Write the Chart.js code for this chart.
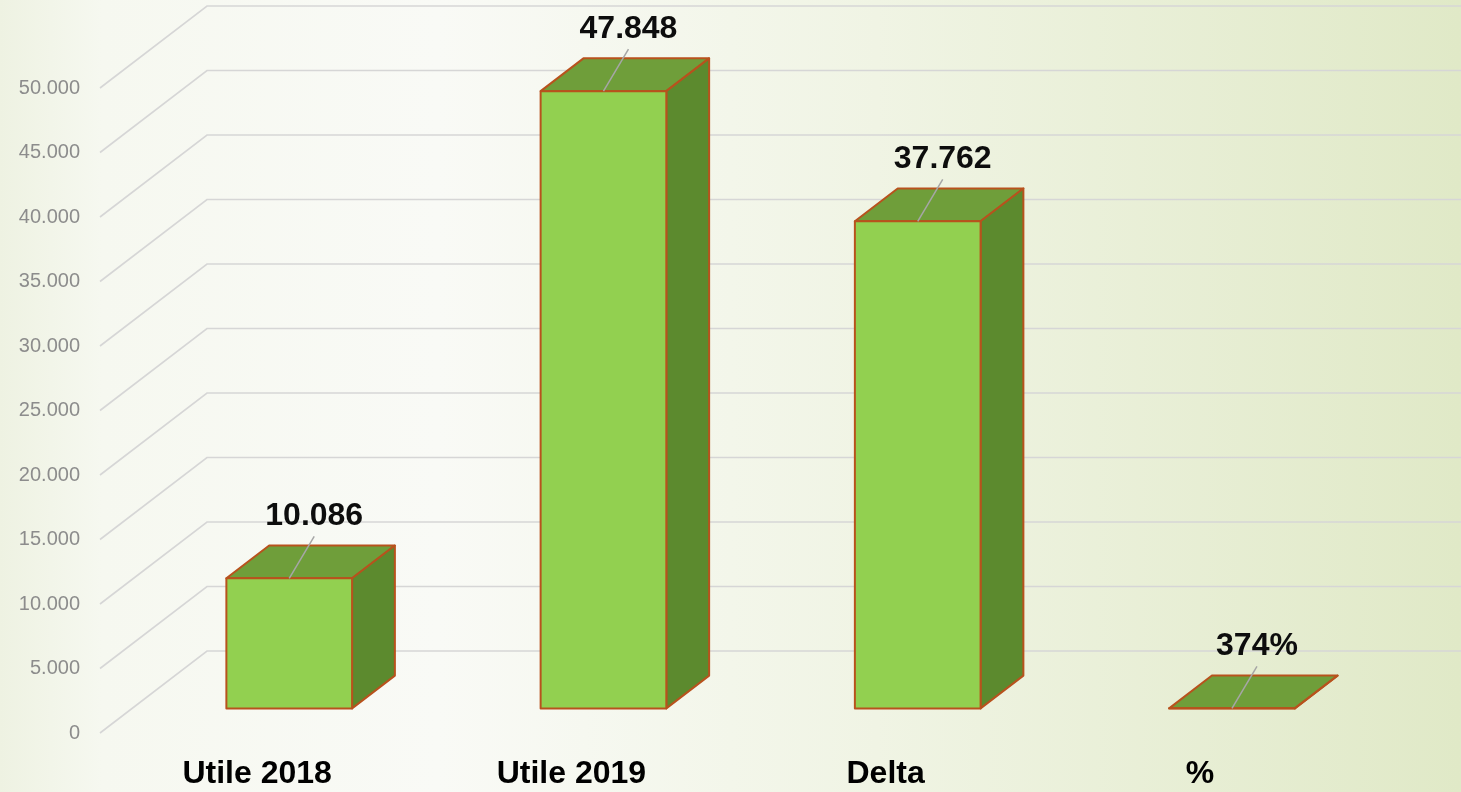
<!DOCTYPE html>
<html>
<head>
<meta charset="utf-8">
<script src="https://cdn.jsdelivr.net/npm/chart.js@4/dist/chart.umd.min.js"></script>
<style>
  html, body { margin: 0; padding: 0; }
  #wrap { width: 1461px; height: 792px; }
</style>
</head>
<body>
<div id="wrap"><canvas id="chart"></canvas></div>
<script>
const categories = ['Utile 2018', 'Utile 2019', 'Delta', '%'];
const values = [10086, 47848, 37762, 3.74];
const valueLabels = ['10.086', '47.848', '37.762', '374%'];
const yMin = 0;
const yMax = 50000;
const yStep = 5000;

// fake 3D: depth of the floor/back wall in pixels, bar sits in the middle
const DEPTH_X = 107;
const DEPTH_Y = 82;
const FRONT_AT = 0.3;
const BAR_DEPTH = 0.4;

const fmt = v => String(Math.round(v)).replace(/\B(?=(\d{3})+(?!\d))/g, '.');

const backdrop = {
  id: 'backdrop',
  beforeDraw(chart) {
    const {ctx, width, height} = chart;
    ctx.save();
    const g = ctx.createLinearGradient(0, 0, width, 0);
    g.addColorStop(0, '#eef2e2');
    g.addColorStop(0.07, '#f6f8f0');
    g.addColorStop(0.3, '#f9faf6');
    g.addColorStop(0.6, '#f0f4e4');
    g.addColorStop(1, '#e0e9c7');
    ctx.fillStyle = g;
    ctx.fillRect(0, 0, width, height);
    ctx.restore();
  }
};

const grid3d = {
  id: 'grid3d',
  beforeDatasetsDraw(chart) {
    const {ctx, chartArea} = chart;
    const y = chart.scales.y;
    ctx.save();
    ctx.strokeStyle = '#d6d6d6';
    ctx.lineWidth = 1.6;
    y.ticks.forEach(t => {
      const py = y.getPixelForValue(t.value);
      ctx.beginPath();
      ctx.moveTo(chartArea.left, py);
      ctx.lineTo(chartArea.left + DEPTH_X, py - DEPTH_Y);
      ctx.lineTo(chartArea.right + DEPTH_X, py - DEPTH_Y);
      ctx.stroke();
    });
    ctx.restore();
  }
};

function poly(ctx, pts, fill) {
  ctx.beginPath();
  ctx.moveTo(pts[0][0], pts[0][1]);
  for (let i = 1; i < pts.length; i++) ctx.lineTo(pts[i][0], pts[i][1]);
  ctx.closePath();
  ctx.fillStyle = fill;
  ctx.fill();
  ctx.stroke();
}

const boxes = {
  id: 'boxes',
  afterDatasetsDraw(chart) {
    const {ctx} = chart;
    const meta = chart.getDatasetMeta(0);
    const ox = DEPTH_X * FRONT_AT, oy = DEPTH_Y * FRONT_AT;
    const dx = DEPTH_X * BAR_DEPTH, dy = DEPTH_Y * BAR_DEPTH;
    ctx.save();
    ctx.lineJoin = 'round';
    meta.data.forEach((bar, i) => {
      const {x, y, base, width} = bar.getProps(['x', 'y', 'base', 'width'], true);
      const l = x - width / 2 + ox, r = x + width / 2 + ox;
      const t = y - oy, b = base - oy;
      ctx.strokeStyle = '#b8521d';
      ctx.lineWidth = 2;
      poly(ctx, [[l, t], [r, t], [r + dx, t - dy], [l + dx, t - dy]], '#6f9e3a');
      poly(ctx, [[r, t], [r + dx, t - dy], [r + dx, b - dy], [r, b]], '#5c8a2e');
      poly(ctx, [[l, t], [r, t], [r, b], [l, b]], '#92d050');

      // leader line + value label
      const cx = x + ox;
      ctx.strokeStyle = '#a6a6a6';
      ctx.lineWidth = 1.5;
      ctx.beginPath();
      ctx.moveTo(cx, t);
      ctx.lineTo(cx + 25, t - 42);
      ctx.stroke();
      ctx.fillStyle = '#0d0d0d';
      ctx.font = 'bold 32px "Liberation Sans", Arial, sans-serif';
      ctx.textAlign = 'center';
      ctx.textBaseline = 'middle';
      ctx.fillText(valueLabels[i], cx + 25, t - 62);
    });
    ctx.restore();
  }
};

new Chart(document.getElementById('chart'), {
  type: 'bar',
  data: {
    labels: categories,
    datasets: [{
      data: values,
      backgroundColor: 'rgba(0,0,0,0)',
      borderWidth: 0,
      categoryPercentage: 1,
      barPercentage: 0.4
    }]
  },
  options: {
    responsive: true,
    maintainAspectRatio: false,
    animation: false,
    layout: {
      padding: {top: 88, right: 104, left: 0, bottom: 0}
    },
    scales: {
      x: {
        grid: {display: false, drawTicks: false},
        border: {display: false},
        ticks: {
          color: '#000',
          padding: 22,
          font: {family: '"Liberation Sans", Arial, sans-serif', size: 32, weight: 'bold'}
        },
        afterFit: s => { s.height = 59; }
      },
      y: {
        min: yMin,
        max: yMax,
        grid: {display: false, drawTicks: false},
        border: {display: false},
        ticks: {
          stepSize: yStep,
          color: '#8c8c8c',
          padding: 20,
          font: {family: '"Liberation Sans", Arial, sans-serif', size: 20},
          callback: v => fmt(v)
        },
        afterFit: s => { s.width = 100; }
      }
    },
    plugins: {
      legend: {display: false},
      tooltip: {enabled: false}
    }
  },
  plugins: [backdrop, grid3d, boxes]
});
</script>
</body>
</html>
